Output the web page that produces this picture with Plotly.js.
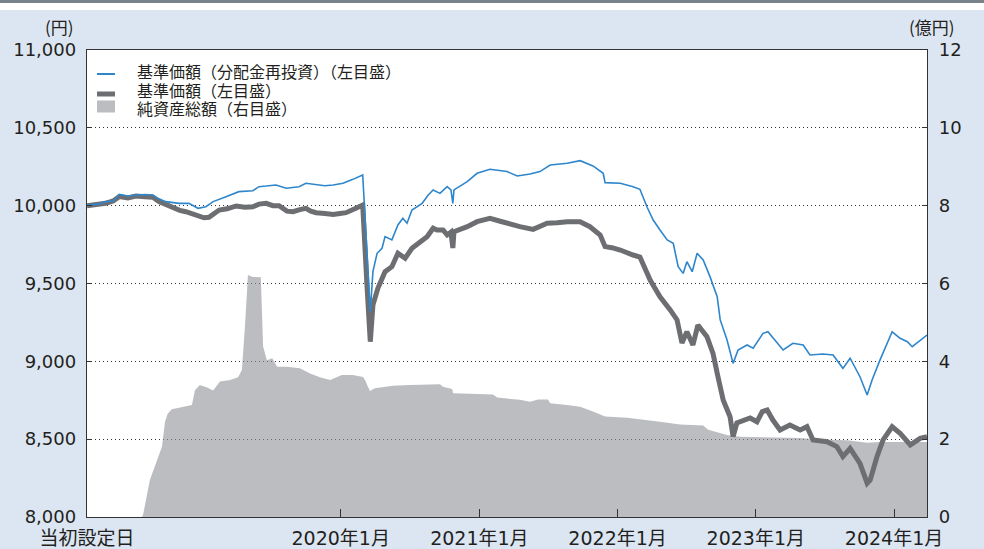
<!DOCTYPE html>
<html>
<head>
<meta charset="utf-8">
<script src="https://cdn.plot.ly/plotly-3.0.1.min.js"></script>
<style>
html,body{margin:0;padding:0;background:#dce6f2;}
#chart{width:984px;height:549px;}
</style>
</head>
<body>
<div id="chart"></div>
<script>
// ---- Data ----
const navDates = ['2018-03-02','2018-04-04','2018-04-20','2018-05-10','2018-05-26','2018-06-18','2018-07-09','2018-08-02','2018-08-23','2018-09-08','2018-09-26','2018-10-15','2018-11-02','2018-11-18','2018-12-07','2018-12-23','2019-01-05','2019-01-18','2019-01-31','2019-02-14','2019-03-07','2019-03-31','2019-04-23','2019-05-14','2019-05-30','2019-06-18','2019-07-06','2019-07-22','2019-08-12','2019-08-28','2019-09-15','2019-10-01','2019-10-14','2019-10-28','2019-11-20','2019-12-12','2019-12-30','2020-01-15','2020-02-10','2020-02-24','2020-02-28','2020-03-10','2020-03-19','2020-03-26','2020-04-08','2020-04-27','2020-05-15','2020-05-31','2020-06-19','2020-07-07','2020-08-03','2020-08-16','2020-09-01','2020-09-11','2020-09-27','2020-10-08','2020-10-18','2020-10-23','2020-10-26','2020-11-11','2020-11-30','2020-12-26','2021-01-29','2021-02-25','2021-03-15','2021-04-18','2021-05-23','2021-06-10','2021-06-29','2021-07-25','2021-08-21','2021-09-24','2021-10-20','2021-11-16','2021-11-29','2021-12-17','2022-01-08','2022-02-11','2022-03-01','2022-03-28','2022-04-23','2022-05-20','2022-06-07','2022-06-20','2022-07-03','2022-07-19','2022-08-01','2022-08-25','2022-09-10','2022-09-23','2022-10-07','2022-10-25','2022-11-02','2022-11-12','2022-12-17','2023-01-04','2023-01-18','2023-01-31','2023-02-15','2023-03-06','2023-04-01','2023-04-28','2023-05-16','2023-06-01','2023-07-08','2023-08-03','2023-08-19','2023-09-07','2023-10-03','2023-10-22','2023-10-30','2023-11-17','2023-12-03','2023-12-27','2024-01-17','2024-02-13','2024-03-10','2024-03-28'];
const navValues = [10000,10005,10015,10030,10058,10050,10062,10058,10054,10026,10005,9983,9970,9961,9945,9929,9922,9925,9950,9972,9980,9998,9990,9993,10010,10015,10000,10000,9965,9961,9975,9983,9965,9955,9950,9944,9950,9955,9983,9995,10004,9500,9126,9362,9469,9576,9608,9694,9662,9726,9780,9801,9855,9844,9844,9812,9830,9728,9833,9845,9865,9897,9919,9900,9887,9865,9848,9865,9887,9890,9897,9897,9865,9812,9737,9730,9715,9683,9670,9522,9415,9330,9266,9118,9190,9105,9233,9158,9051,8901,8750,8644,8516,8604,8636,8612,8677,8687,8623,8559,8591,8559,8580,8495,8484,8452,8388,8441,8345,8217,8238,8388,8495,8580,8538,8463,8505,8516];

const reinvDates = ['2018-03-02','2018-04-02','2018-04-20','2018-05-10','2018-05-26','2018-06-18','2018-07-09','2018-08-02','2018-08-23','2018-09-05','2018-09-26','2018-10-31','2018-11-26','2018-12-20','2019-01-10','2019-01-29','2019-03-04','2019-04-07','2019-05-14','2019-05-30','2019-06-18','2019-07-14','2019-08-10','2019-09-13','2019-10-01','2019-10-28','2019-11-20','2019-12-12','2020-01-07','2020-02-02','2020-02-24','2020-02-28','2020-03-19','2020-03-26','2020-04-06','2020-04-19','2020-04-27','2020-05-15','2020-05-31','2020-06-13','2020-06-24','2020-07-07','2020-08-03','2020-08-19','2020-09-01','2020-09-19','2020-10-08','2020-10-18','2020-10-23','2020-10-26','2020-11-30','2020-12-26','2021-01-29','2021-02-25','2021-03-15','2021-04-11','2021-05-15','2021-06-10','2021-07-07','2021-08-21','2021-09-24','2021-10-28','2021-11-24','2021-11-29','2022-01-08','2022-02-11','2022-03-01','2022-03-20','2022-04-05','2022-04-23','2022-05-12','2022-05-28','2022-06-10','2022-06-23','2022-07-03','2022-07-17','2022-07-30','2022-08-15','2022-09-02','2022-09-21','2022-09-29','2022-10-17','2022-11-02','2022-11-15','2022-12-09','2022-12-25','2023-01-20','2023-02-02','2023-02-26','2023-03-14','2023-04-09','2023-05-06','2023-05-24','2023-06-27','2023-07-24','2023-08-19','2023-09-07','2023-10-03','2023-10-22','2023-11-04','2023-11-25','2023-12-14','2023-12-27','2024-01-17','2024-02-05','2024-02-18','2024-03-10','2024-03-28'];
const reinvValues = [10004,10010,10026,10030,10073,10062,10069,10072,10069,10047,10026,10015,10015,9983,9993,10026,10058,10090,10096,10122,10126,10133,10112,10122,10144,10133,10128,10133,10144,10169,10190,10197,9319,9576,9694,9726,9801,9780,9876,9919,9887,9972,10015,10069,10101,10079,10122,10101,10015,10101,10154,10208,10234,10225,10219,10191,10203,10219,10261,10272,10289,10255,10208,10148,10144,10122,10105,9990,9908,9844,9780,9758,9608,9565,9640,9576,9694,9651,9544,9415,9266,9137,8987,9073,9105,9084,9180,9190,9116,9073,9116,9105,9041,9047,9041,8955,9020,8901,8784,8880,9009,9116,9190,9148,9126,9094,9137,9169];

const assetDates = ['2018-03-02','2018-07-25','2018-07-28','2018-08-15','2018-09-03','2018-09-16','2018-09-24','2018-10-01','2018-10-12','2018-11-02','2018-12-04','2018-12-12','2018-12-25','2019-01-13','2019-01-29','2019-02-16','2019-03-15','2019-04-05','2019-04-15','2019-04-23','2019-05-01','2019-05-14','2019-06-04','2019-06-10','2019-06-20','2019-07-04','2019-07-17','2019-08-12','2019-09-15','2019-10-12','2019-11-07','2019-12-04','2020-01-04','2020-02-02','2020-02-29','2020-03-05','2020-03-18','2020-03-31','2020-05-18','2020-07-02','2020-09-19','2020-09-27','2020-10-21','2020-10-24','2021-02-06','2021-02-17','2021-04-18','2021-05-15','2021-06-05','2021-07-01','2021-07-07','2021-08-21','2021-09-24','2021-10-28','2021-11-29','2022-01-26','2022-03-09','2022-04-23','2022-06-15','2022-08-15','2022-08-28','2022-09-29','2022-10-17','2022-11-20','2023-01-12','2023-04-28','2023-06-20','2023-08-30','2023-10-22','2023-11-25','2024-03-28'];
const assetValues = [0,0,0.05,0.95,1.46,1.81,2.45,2.65,2.77,2.81,2.88,3.26,3.39,3.33,3.25,3.48,3.52,3.59,3.78,4.89,6.22,6.17,6.16,4.38,4.03,4.08,3.86,3.86,3.82,3.69,3.59,3.52,3.65,3.65,3.60,3.52,3.24,3.31,3.37,3.39,3.41,3.35,3.29,3.18,3.15,3.07,3.01,2.96,3.02,3.02,2.92,2.88,2.83,2.71,2.58,2.55,2.51,2.45,2.38,2.35,2.24,2.15,2.11,2.06,2.05,2.03,1.99,1.97,1.91,1.93,1.93];

const xRange = ['2018-03-02','2024-03-28'];
const xTickDates = ['2018-03-02','2020-01-01','2021-01-01','2022-01-01','2023-01-01','2024-01-01'];
const xTickLabels = ['当初設定日','2020年1月','2021年1月','2022年1月','2023年1月','2024年1月'];
const leftTicks = [8000,8500,9000,9500,10000,10500,11000];
const rightTicks = [0,2,4,6,8,10,12];
const legendLabels = ['基準価額（分配金再投資）（左目盛）','基準価額（左目盛）','純資産総額（右目盛）'];
const leftUnit = '(円)';
const rightUnit = '(億円)';

// ---- Styles ----
const CJK = '"Noto Sans CJK JP", sans-serif';
const LEG = '"Liberation Sans", "Noto Sans CJK JP", sans-serif';
const NUM = '"DejaVu Sans", "Noto Sans CJK JP", sans-serif';
const TXT = '#231f20';
const BLUE = '#2e86cc';
const GRAY = '#6d6e71';
const AREA = 'rgba(143,145,150,0.6)';
const AREA_SOLID = '#bcbdc0';
const AX = '#333333';

const traces = [
  {x: assetDates, y: assetValues, type: 'scatter', mode: 'lines', yaxis: 'y',
   line: {width: 0, color: AREA}, fill: 'tozeroy', fillcolor: AREA, name: legendLabels[2], hoverinfo: 'skip'},
  {x: navDates, y: navValues, type: 'scatter', mode: 'lines', yaxis: 'y2',
   line: {width: 5, color: GRAY}, name: legendLabels[1], hoverinfo: 'skip'},
  {x: reinvDates, y: reinvValues, type: 'scatter', mode: 'lines', yaxis: 'y2',
   line: {width: 1.6, color: BLUE}, name: legendLabels[0], hoverinfo: 'skip'}
];

const W = 984, H = 549, ML = 87, MR = 57, MT = 50, MB = 32;
const PW = W - ML - MR, PH = H - MT - MB;
const px = x => (x - ML) / PW;
const py = y => (H - MB - y) / PH;

// legend rows (pixel centres)
const legendY = [72.5, 91, 109.5];
const shapes = [
  {type: 'rect', xref: 'paper', yref: 'paper', x0: px(0), x1: px(W), y0: py(3), y1: py(0), line: {width: 0}, fillcolor: '#77828b', layer: 'above'},
  {type: 'rect', xref: 'paper', yref: 'paper', x0: px(0), x1: px(W), y0: py(10), y1: py(3), line: {width: 0}, fillcolor: '#ffffff', layer: 'above'},
  // legend samples
  {type: 'line', xref: 'paper', yref: 'paper', x0: px(97), x1: px(115), y0: py(legendY[0] + 1.5), y1: py(legendY[0] + 1.5), line: {color: BLUE, width: 2}},
  {type: 'line', xref: 'paper', yref: 'paper', x0: px(97), x1: px(115), y0: py(legendY[1] + 3), y1: py(legendY[1] + 3), line: {color: GRAY, width: 5}},
  {type: 'rect', xref: 'paper', yref: 'paper', x0: px(97), x1: px(115), y0: py(legendY[2] + 3), y1: py(legendY[2] - 9), line: {width: 0}, fillcolor: AREA_SOLID}
];

const annotations = legendLabels.map((t, i) => ({
  text: t, xref: 'paper', yref: 'paper', x: px(136), y: py(legendY[i]),
  xanchor: 'left', yanchor: 'middle', showarrow: false, borderpad: 0,
  font: {family: LEG, size: 16, color: TXT}
}));
annotations.push({text: leftUnit, xref: 'paper', yref: 'paper', x: px(59), y: py(26), xanchor: 'center', yanchor: 'middle', showarrow: false, font: {family: CJK, size: 17, color: TXT}});
annotations.push({text: rightUnit, xref: 'paper', yref: 'paper', x: px(932), y: py(26), xanchor: 'center', yanchor: 'middle', showarrow: false, font: {family: CJK, size: 17, color: TXT}});

const layout = {
  width: W, height: H,
  margin: {l: ML, r: MR, t: MT, b: MB, pad: 0},
  paper_bgcolor: '#dce6f2',
  plot_bgcolor: '#ffffff',
  showlegend: false,
  font: {family: NUM, size: 18, color: TXT},
  xaxis: {
    type: 'date', range: xRange, tickvals: xTickDates, ticktext: xTickLabels,
    ticks: 'inside', ticklen: 8, tickcolor: AX, tickwidth: 1,
    showline: true, linecolor: AX, linewidth: 1.2, mirror: true,
    showgrid: false, zeroline: false, fixedrange: true,
    tickfont: {family: NUM, size: 19, color: TXT}, ticklabelstandoff: 4
  },
  yaxis: {
    side: 'right', range: [0, 12], tickvals: rightTicks,
    ticks: 'inside', ticklen: 5, tickcolor: AX,
    showline: true, linecolor: AX, linewidth: 1.2,
    showgrid: false, zeroline: false, fixedrange: true,
    tickfont: {family: NUM, size: 18, color: TXT}, ticklabelstandoff: 7
  },
  yaxis2: {
    overlaying: 'y', side: 'left', range: [8000, 11000], tickvals: leftTicks, tickformat: ',d',
    ticks: 'inside', ticklen: 5, tickcolor: AX,
    showline: true, linecolor: AX, linewidth: 1.2,
    showgrid: true, gridcolor: '#333333', gridwidth: 1, griddash: '1px,3px',
    zeroline: false, fixedrange: true,
    tickfont: {family: NUM, size: 18, color: TXT}, ticklabelstandoff: 6
  },
  shapes: shapes,
  annotations: annotations
};

Plotly.newPlot('chart', traces, layout, {staticPlot: true, displayModeBar: false});
</script>
</body>
</html>
